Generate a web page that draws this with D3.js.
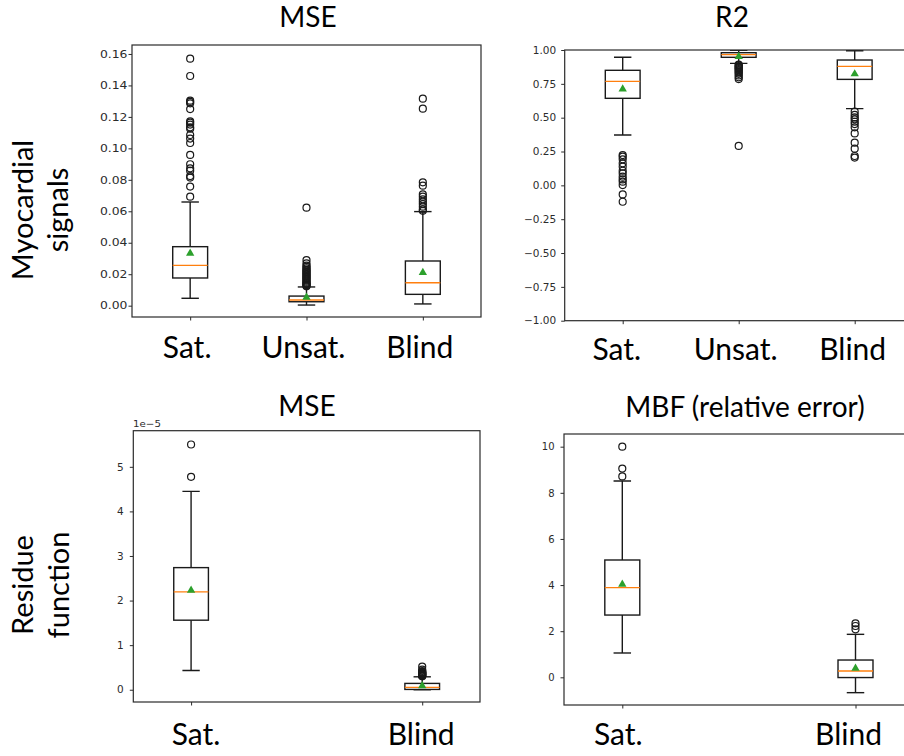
<!DOCTYPE html>
<html>
<head>
<meta charset="utf-8">
<script src="https://cdn.jsdelivr.net/npm/d3@7"></script>
<style>
  html, body { margin: 0; padding: 0; background: #fff; }
  svg { display: block; }
  .lbl { font-family: Lato, "Open Sans", sans-serif; fill: #000; }
  .tick text { font-family: "DejaVu Sans", sans-serif; fill: #2b2b2b; }
</style>
</head>
<body>
<svg id="fig" width="904" height="756"></svg>
<script>
// ---- data ----------------------------------------------------------------
const categories = ["Sat.", "Unsat.", "Blind"];

// box statistics per group: [lowWhisker, q1, median, q3, highWhisker, mean]
const signalMseStats = [
  [0.0047, 0.0176, 0.0256, 0.0375, 0.0659, 0.0333],
  [0.0004, 0.0025, 0.0036, 0.0061, 0.0119, 0.0053],
  [0.0011, 0.0072, 0.0146, 0.0284, 0.0598, 0.0210]
];
const signalMseOutliers = [
  [0.1570, 0.1460, 0.1303, 0.1295, 0.1286, 0.1250, 0.1172, 0.1163, 0.1151, 0.1134, 0.1125,
   0.1085, 0.1062, 0.1034, 0.0958, 0.0899, 0.0873, 0.0858, 0.0824, 0.0814, 0.0757, 0.0693],
  [0.0623, 0.0290, 0.0269, 0.0254, 0.0246, 0.0237, 0.0228, 0.0223, 0.0215, 0.0210, 0.0203,
   0.0197, 0.0190, 0.0184, 0.0178, 0.0172, 0.0165, 0.0159, 0.0152, 0.0146, 0.0141, 0.0136,
   0.0131, 0.0127, 0.0123],
  [0.1316, 0.1252, 0.0784, 0.0763, 0.0708, 0.0693, 0.0676, 0.0661, 0.0646, 0.0629, 0.0612, 0.0603]
];
const signalMseTicks = [0, 0.02, 0.04, 0.06, 0.08, 0.10, 0.12, 0.14, 0.16];

const signalR2Stats = [
  [0.372, 0.643, 0.768, 0.850, 0.946, 0.712],
  [0.901, 0.946, 0.966, 0.980, 0.998, 0.951],
  [0.567, 0.783, 0.879, 0.926, 0.995, 0.823]
];
const signalR2Outliers = [
  [0.224, 0.212, 0.192, 0.163, 0.138, 0.108, 0.089, 0.064, 0.044, 0.027, 0.002, -0.067, -0.121],
  [0.892, 0.886, 0.879, 0.872, 0.866, 0.859, 0.851, 0.843, 0.834, 0.824, 0.812, 0.798, 0.785, 0.291],
  [0.544, 0.520, 0.502, 0.488, 0.470, 0.453, 0.429, 0.384, 0.315, 0.271, 0.217, 0.205]
];
const signalR2Ticks = [-1, -0.75, -0.5, -0.25, 0, 0.25, 0.5, 0.75, 1];

// residue function: only saturated and blind groups
const residueGroups = ["Sat.", "Blind"];
const residueMseStats = [
  [0.433e-5, 1.56e-5, 2.194e-5, 2.739e-5, 4.448e-5, 2.23e-5],
  [0.0,      0.007e-5, 0.052e-5, 0.142e-5, 0.29e-5, 0.09e-5]
];
const residueMseOutliers = [
  [5.5e-5, 4.776e-5],
  [0.30e-5, 0.31e-5, 0.32e-5, 0.33e-5, 0.34e-5, 0.35e-5, 0.36e-5, 0.37e-5, 0.38e-5,
   0.39e-5, 0.40e-5, 0.42e-5, 0.45e-5, 0.52e-5]
];
const residueMseTicks = [0, 1e-5, 2e-5, 3e-5, 4e-5, 5e-5];

const residueMbfStats = [
  [1.055, 2.70, 3.887, 5.087, 8.51, 4.03],
  [-0.665, -0.01, 0.275, 0.75, 1.864, 0.39]
];
const residueMbfOutliers = [
  [10.0, 9.05, 8.71],
  [2.34, 2.225, 2.08]
];
const residueMbfTicks = [0, 2, 4, 6, 8, 10];

// ---- drawing -------------------------------------------------------------
const svg = d3.select("#fig");
const minus = s => s.replace("-", "\u2212");

function drawPanel(cfg) {
  const g = svg.append("g");
  const x = d3.scaleLinear().domain([0.5, 3.5]).range([cfg.left, cfg.right]);
  const y = d3.scaleLinear().domain(cfg.yDomain).range([cfg.bottom, cfg.top]);
  const id = "clip" + cfg.name;

  g.append("clipPath").attr("id", id).append("rect")
    .attr("x", cfg.left).attr("y", cfg.top)
    .attr("width", cfg.right - cfg.left).attr("height", cfg.bottom - cfg.top);

  const plot = g.append("g").attr("clip-path", `url(#${id})`);

  cfg.stats.forEach((s, i) => {
    const p = cfg.positions[i];
    const [lo, q1, med, q3, hi, mean] = s;
    const bx0 = x(p - 0.15), bx1 = x(p + 0.15);
    const cx0 = x(p - 0.075), cx1 = x(p + 0.075);
    const cx = x(p);
    const grp = plot.append("g")
      .attr("fill", "none").attr("stroke", "#1a1a1a").attr("stroke-width", 1.4);

    // whiskers and caps
    grp.append("line").attr("x1", cx).attr("x2", cx).attr("y1", y(q1)).attr("y2", y(lo));
    grp.append("line").attr("x1", cx).attr("x2", cx).attr("y1", y(q3)).attr("y2", y(hi));
    grp.append("line").attr("x1", cx0).attr("x2", cx1).attr("y1", y(lo)).attr("y2", y(lo));
    grp.append("line").attr("x1", cx0).attr("x2", cx1).attr("y1", y(hi)).attr("y2", y(hi));

    // box
    grp.append("rect")
      .attr("x", bx0).attr("y", y(q3))
      .attr("width", bx1 - bx0).attr("height", y(q1) - y(q3));

    // median
    plot.append("line")
      .attr("x1", bx0).attr("x2", bx1).attr("y1", y(med)).attr("y2", y(med))
      .attr("stroke", "#ff7f0e").attr("stroke-width", 1.4);

    // outliers
    plot.append("g").selectAll("circle").data(cfg.outliers[i]).join("circle")
      .attr("cx", cx).attr("cy", d => y(d)).attr("r", 3.5)
      .attr("fill", "none").attr("stroke", "#1a1a1a").attr("stroke-width", 1.2);

    // mean marker
    plot.append("path")
      .attr("d", d3.symbol(d3.symbolTriangle, 30)())
      .attr("transform", `translate(${cx},${y(mean)})`)
      .attr("fill", "#2ca02c");
  });

  // frame
  g.append("rect")
    .attr("x", cfg.left).attr("y", cfg.top)
    .attr("width", cfg.right - cfg.left).attr("height", cfg.bottom - cfg.top)
    .attr("fill", "none").attr("stroke", "#2b2b2b").attr("stroke-width", 1.2);

  // y axis
  const ya = g.append("g").attr("transform", `translate(${cfg.left},0)`)
    .call(d3.axisLeft(y).tickValues(cfg.ticks).tickFormat(cfg.format)
      .tickSize(3.5).tickPadding(cfg.pad));
  ya.select(".domain").remove();
  ya.selectAll(".tick line").attr("stroke", "#2b2b2b");
  ya.selectAll(".tick text")
    .attr("font-size", cfg.fontSize)
    .attr("x", -(3.5 + cfg.pad) / cfg.stretch)
    .attr("transform", `scale(${cfg.stretch},1)`);

  // x axis ticks (labels are drawn separately)
  const xa = g.append("g").attr("transform", `translate(0,${cfg.bottom})`)
    .call(d3.axisBottom(x).tickValues(cfg.positions).tickFormat("").tickSize(3.5));
  xa.select(".domain").remove();
  xa.selectAll(".tick line").attr("stroke", "#2b2b2b");

  // category labels
  cfg.labels.forEach((t, i) => {
    svg.append("text").attr("class", "lbl")
      .attr("x", x(cfg.positions[i]) + cfg.labelShift[i]).attr("y", cfg.labelY)
      .attr("text-anchor", "middle").attr("font-size", 30).text(t);
  });

  // title
  svg.append("text").attr("class", "lbl")
    .attr("x", cfg.titleX).attr("y", cfg.titleY)
    .attr("text-anchor", "middle").attr("font-size", 28).text(cfg.title);

  return { x, y };
}

drawPanel({
  name: "a", title: "MSE", titleX: 308, titleY: 27,
  left: 132, right: 481, top: 45, bottom: 317,
  yDomain: [-0.0072, 0.1657], ticks: signalMseTicks,
  format: d3.format(".2f"), fontSize: 10, stretch: 1.24, pad: 1,
  positions: [1, 2, 3], stats: signalMseStats, outliers: signalMseOutliers,
  labels: categories, labelShift: [-3, -3, -3], labelY: 358
});

drawPanel({
  name: "b", title: "R2", titleX: 732, titleY: 27,
  left: 564.7, right: 912.7, top: 50, bottom: 320.7,
  yDomain: [-1, 1], ticks: signalR2Ticks,
  format: d => minus(d3.format(".2f")(d)), fontSize: 10, stretch: 1.05, pad: 5,
  positions: [1, 2, 3], stats: signalR2Stats, outliers: signalR2Outliers,
  labels: categories, labelShift: [-6, -3, -2], labelY: 360
});

drawPanel({
  name: "c", title: "MSE", titleX: 307, titleY: 416,
  left: 133.3, right: 480, top: 430.7, bottom: 702,
  yDomain: [-0.275e-5, 5.81e-5], ticks: residueMseTicks,
  format: d => d3.format(".0f")(d * 1e5), fontSize: 10, stretch: 1.05, pad: 6,
  positions: [1, 3], stats: residueMseStats, outliers: residueMseOutliers,
  labels: residueGroups, labelShift: [5, -1], labelY: 745
});

drawPanel({
  name: "d", title: "MBF (relative error)", titleX: 745, titleY: 417,
  left: 564, right: 913.8, top: 434, bottom: 705,
  yDomain: [-1.2, 10.55], ticks: residueMbfTicks,
  format: d3.format("d"), fontSize: 10, stretch: 1.0, pad: 6,
  positions: [1, 3], stats: residueMbfStats, outliers: residueMbfOutliers,
  labels: residueGroups, labelShift: [-4, -7], labelY: 745
});

// axis offset text for the residue MSE panel
svg.append("text")
  .attr("x", 133).attr("y", 427)
  .attr("font-family", "DejaVu Sans, sans-serif").attr("font-size", 9.5)
  .attr("fill", "#2b2b2b")
  .attr("transform", "translate(133,427) scale(1.08,1) translate(-133,-427)")
  .text("1e\u22125");

// row labels
function rowLabel(lines, cy, xs) {
  lines.forEach((t, i) => {
    svg.append("text").attr("class", "lbl")
      .attr("transform", `translate(${xs[i]},${cy}) rotate(-90)`)
      .attr("text-anchor", "middle").attr("font-size", 29).text(t);
  });
}
rowLabel(["Myocardial", "signals"], 210, [33, 68]);
rowLabel(["Residue", "function"], 585, [33, 69]);
</script>
</body>
</html>
